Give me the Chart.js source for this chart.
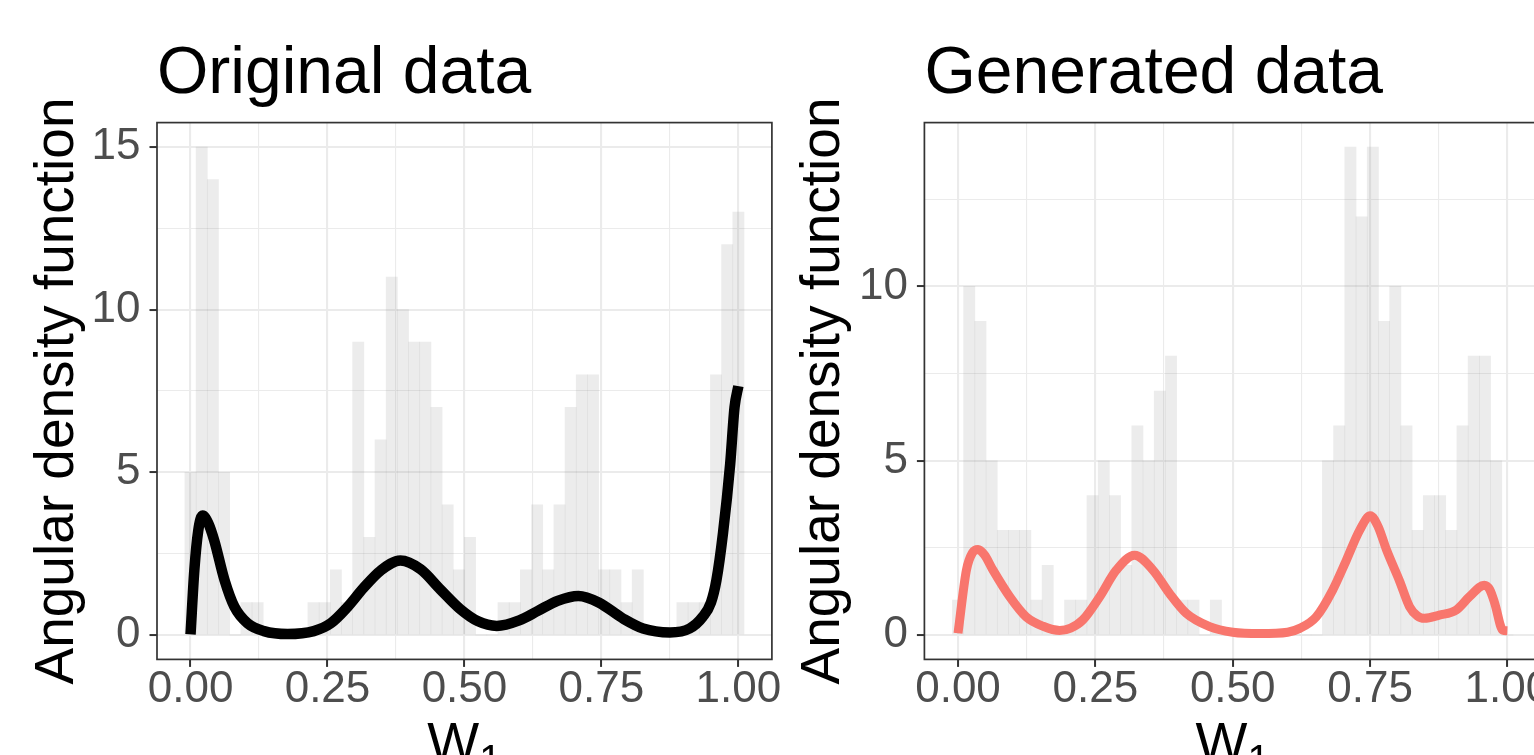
<!DOCTYPE html>
<html>
<head>
<meta charset="utf-8">
<title>Angular density: original vs generated</title>
<script src="https://cdn.jsdelivr.net/npm/chart.js@4.4.1/dist/chart.umd.min.js"></script>
<style>
  html, body { margin: 0; padding: 0; background: #fff; overflow: hidden; }
  body { width: 1534px; height: 755px; position: relative; }
  .panel { position: absolute; top: 0; height: 755px; }
  #left { left: 0; width: 800px; }
  #right { left: 790px; width: 790px; }
</style>
</head>
<body>
<div class="panel" id="left"><canvas id="originalChart"></canvas></div>
<div class="panel" id="right"><canvas id="generatedChart"></canvas></div>
<script>
// Histogram bins: 50 bins centred on 0 .. 1 (ggplot style, bins = 50)
const BIN_COUNT = 50;
const binCenters = Array.from({ length: BIN_COUNT }, (_, i) => i / (BIN_COUNT - 1));

const originalCounts = [
  5, 15, 14, 5, 0, 1, 1, 0, 0, 0,
  0, 1, 1, 2, 1, 9, 3, 6, 11, 10,
  9, 9, 7, 4, 2, 3, 0, 0, 1, 1,
  2, 4, 2, 4, 7, 8, 8, 2, 2, 1,
  2, 0, 0, 0, 1, 1, 1, 8, 12, 13,
];
const generatedCounts = [
  1, 10, 9, 5, 3, 3, 3, 1, 2, 0,
  1, 1, 4, 5, 4, 2, 6, 5, 7, 8,
  1, 1, 0, 1, 0, 0, 0, 0, 0, 0,
  0, 0, 0, 5, 6, 14, 12, 14, 9, 10,
  6, 3, 4, 4, 3, 6, 8, 8, 5, 0,
];

// Density curves
const originalDensityX = [
  0, 0.007, 0.014, 0.022, 0.032, 0.043, 0.062, 0.08, 0.104, 0.134,
  0.177, 0.225, 0.256, 0.286, 0.316, 0.347, 0.383, 0.42, 0.456, 0.492,
  0.525, 0.559, 0.6, 0.635, 0.67, 0.708, 0.745, 0.79, 0.826, 0.875,
  0.911, 0.935, 0.95, 0.96, 0.972, 0.985, 0.993, 1.0,
];
const originalDensityY = [
  0.02, 2.0, 3.2, 3.67, 3.45, 2.92, 1.69, 0.87, 0.36, 0.12,
  0.03, 0.12, 0.36, 0.85, 1.45, 1.98, 2.29, 2.02, 1.4, 0.8,
  0.42, 0.28, 0.45, 0.75, 1.05, 1.2, 1.0, 0.5, 0.2, 0.08,
  0.2, 0.56, 1.0, 1.69, 3.14, 5.25, 7.0, 7.65,
];
const generatedDensityX = [
  0, 0.0153, 0.026, 0.0364, 0.048, 0.0637, 0.094, 0.124, 0.155, 0.185,
  0.205, 0.227, 0.258, 0.288, 0.3215, 0.355, 0.385, 0.4156, 0.458, 0.5,
  0.55, 0.6, 0.622, 0.652, 0.682, 0.707, 0.731, 0.7505, 0.765, 0.78,
  0.8037, 0.822, 0.836, 0.849, 0.876, 0.907, 0.931, 0.958, 0.968, 0.977,
  0.9916, 1.0,
];
const generatedDensityY = [
  0.05, 1.86, 2.35, 2.45, 2.3, 1.86, 1.1, 0.52, 0.25, 0.13,
  0.2, 0.43, 1.1, 1.86, 2.29, 1.86, 1.19, 0.62, 0.24, 0.08,
  0.04, 0.08, 0.19, 0.52, 1.29, 2.15, 3.0, 3.42, 3.1, 2.44,
  1.55, 0.81, 0.55, 0.48, 0.57, 0.72, 1.1, 1.43, 1.3, 0.91,
  0.14, 0.12,
];

const xTicks = [0, 0.125, 0.25, 0.375, 0.5, 0.625, 0.75, 0.875, 1];
const xMajor = [0, 0.25, 0.5, 0.75, 1];
const yTicksOriginal = [0, 2.5, 5, 7.5, 10, 12.5, 15];
const yTicksGenerated = [0, 2.5, 5, 7.5, 10, 12.5];
const yMajor = [0, 5, 10, 15];

const FONT = '"Liberation Sans", Arial, Helvetica, sans-serif';
Chart.defaults.font.family = FONT;

const panelBorder = {
  id: "panelBorder",
  afterDatasetsDraw(chart) {
    const { ctx, chartArea: a } = chart;
    ctx.save();
    ctx.strokeStyle = "#333333";
    ctx.lineWidth = 1.7;
    ctx.strokeRect(a.left, a.top, a.right - a.left, a.bottom - a.top);
    ctx.restore();
  },
};

// x axis title "W" with a subscript 1
const subscriptTitle = {
  id: "subscriptTitle",
  afterDraw(chart, args, opts) {
    const { ctx, chartArea: a } = chart;
    ctx.save();
    ctx.fillStyle = "#000";
    ctx.textBaseline = "alphabetic";
    ctx.textAlign = "left";
    ctx.font = `55px ${FONT}`;
    const wMain = ctx.measureText(opts.main).width;
    ctx.font = `40px ${FONT}`;
    const wSub = ctx.measureText(opts.sub).width;
    const x0 = (a.left + a.right) / 2 - (wMain + wSub) / 2;
    ctx.font = `55px ${FONT}`;
    ctx.fillText(opts.main, x0, opts.baseline);
    ctx.font = `40px ${FONT}`;
    ctx.fillText(opts.sub, x0 + wMain, opts.baseline + 12);
    ctx.restore();
  },
};

const isMajorX = (v) => xMajor.includes(v);
const isMajorY = (v) => yMajor.includes(v);

function renderPanel(canvasId, cfg) {
  const ctx = document.getElementById(canvasId);
  if (!ctx) return null;
  return new Chart(ctx, {
    type: "bar",
    data: {
      datasets: [
        {
          type: "line",
          data: cfg.densityX.map((x, i) => ({ x, y: cfg.densityY[i] })),
          borderColor: cfg.lineColor,
          borderWidth: cfg.lineWidth,
          pointRadius: 0,
          cubicInterpolationMode: "monotone",
          fill: false,
          order: 0,
        },
        {
          type: "bar",
          data: binCenters.map((x, i) => ({ x, y: cfg.counts[i] })),
          backgroundColor: "rgba(127, 127, 127, 0.15)",
          borderWidth: 0,
          barPercentage: 1,
          categoryPercentage: 1,
          order: 1,
        },
      ],
    },
    options: {
      responsive: true,
      maintainAspectRatio: false,
      animation: false,
      events: [],
      layout: { padding: { left: 0, right: cfg.padRight, top: 0, bottom: 0 } },
      plugins: {
        legend: { display: false },
        tooltip: { enabled: false },
        title: {
          display: true,
          text: cfg.title,
          align: "start",
          fullSize: false,
          color: "#000",
          font: { family: FONT, size: 66, weight: "normal", lineHeight: 1.2 },
          padding: { top: 35.4, bottom: 8 },
        },
        subscriptTitle: { main: "W", sub: "1", baseline: 761 },
      },
      scales: {
        x: {
          type: "linear",
          position: "bottom",
          min: -0.0612,
          max: 1.0612,
          offset: false,
          afterBuildTicks: (s) => { s.ticks = xTicks.map((value) => ({ value })); },
          afterFit: (s) => { s.height = 95.6; s.paddingLeft = 0; s.paddingRight = 0; },
          ticks: {
            autoSkip: false,
            maxRotation: 0,
            padding: -3,
            color: "#4D4D4D",
            font: { family: FONT, size: 44 },
            callback: (v) => (isMajorX(v) ? v.toFixed(2) : ""),
          },
          grid: {
            offset: false,
            color: "#EBEBEB",
            lineWidth: (c) => (c.tick && isMajorX(c.tick.value) ? 2.1 : 1.1),
            tickLength: 7.5,
            tickWidth: 2,
            tickColor: (c) => (c.tick && isMajorX(c.tick.value) ? "#333333" : "rgba(0,0,0,0)"),
          },
          border: { display: false },
        },
        y: {
          type: "linear",
          min: cfg.yMin,
          max: cfg.yMax,
          afterBuildTicks: (s) => { s.ticks = cfg.yTicks.map((value) => ({ value })); },
          afterFit: (s) => { s.width = cfg.yAxisWidth; s.paddingTop = 0; s.paddingBottom = 0; },
          ticks: {
            padding: 9,
            color: "#4D4D4D",
            font: { family: FONT, size: 44 },
            callback: (v) => (isMajorY(v) ? String(v) : ""),
          },
          grid: {
            color: "#EBEBEB",
            lineWidth: (c) => (c.tick && isMajorY(c.tick.value) ? 2.1 : 1.1),
            tickLength: 7.5,
            tickWidth: 2,
            tickColor: (c) => (c.tick && isMajorY(c.tick.value) ? "#333333" : "rgba(0,0,0,0)"),
          },
          border: { display: false },
          title: {
            display: true,
            text: "Angular density function",
            color: "#000",
            font: { family: FONT, size: 55, lineHeight: 1.2 },
            padding: { top: cfg.yTitlePad, bottom: 0 },
          },
        },
      },
    },
    plugins: [panelBorder, subscriptTitle],
  });
}

renderPanel("originalChart", {
  title: "Original data",
  counts: originalCounts,
  densityX: originalDensityX,
  densityY: originalDensityY,
  lineColor: "#000000",
  lineWidth: 10.5,
  yMin: -0.75,
  yMax: 15.75,
  yTicks: yTicksOriginal,
  yAxisWidth: 157,
  yTitlePad: 25,
  padRight: 28.1,
});

renderPanel("generatedChart", {
  title: "Generated data",
  counts: generatedCounts,
  densityX: generatedDensityX,
  densityY: generatedDensityY,
  lineColor: "#F8766D",
  lineWidth: 9,
  yMin: -0.7,
  yMax: 14.7,
  yTicks: yTicksGenerated,
  yAxisWidth: 134.4,
  yTitlePad: 1,
  padRight: 39,
});
</script>
</body>
</html>
